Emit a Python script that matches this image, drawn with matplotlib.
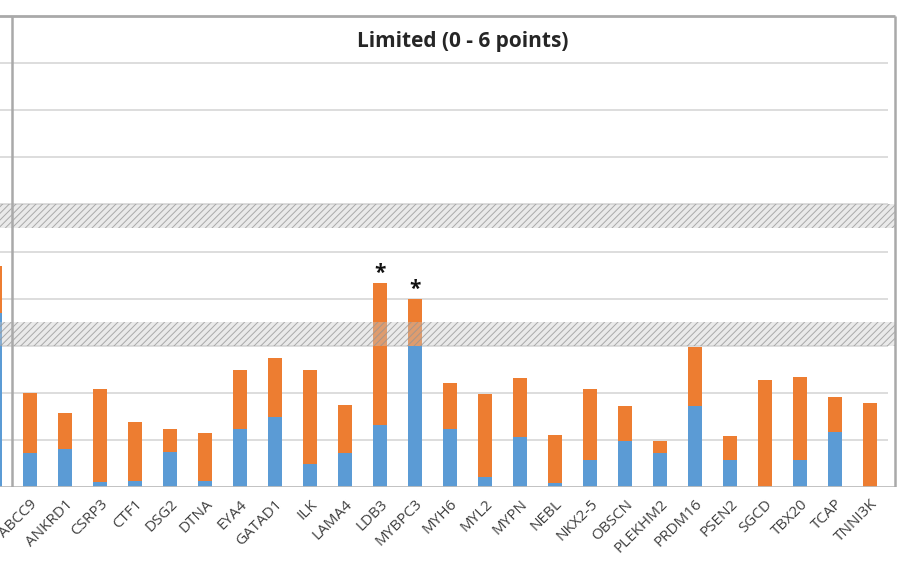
import numpy as np
import matplotlib.pyplot as plt

plt.rcParams['font.family'] = ['Open Sans', 'DejaVu Sans']
plt.rcParams['hatch.linewidth'] = 0.7

# last gene of the neighbouring panel (cut off) followed by the "Limited" genes
genes = ['', 'ABCC9', 'ANKRD1', 'CSRP3', 'CTF1', 'DSG2', 'DTNA', 'EYA4', 'GATAD1',
         'ILK', 'LAMA4', 'LDB3', 'MYBPC3', 'MYH6', 'MYL2', 'MYPN', 'NEBL',
         'NKX2-5', 'OBSCN', 'PLEKHM2', 'PRDM16', 'PSEN2', 'SGCD', 'TBX20',
         'TCAP', 'TNNI3K']
blue = [3.69, 0.72, 0.81, 0.10, 0.13, 0.74, 0.13, 1.23, 1.49,
        0.49, 0.72, 1.32, 2.99, 1.23, 0.21, 1.06, 0.08,
        0.57, 0.98, 0.72, 1.72, 0.57, 0.0, 0.57,
        1.17, 0.0]
total = [4.69, 2.00, 1.57, 2.08, 1.38, 1.23, 1.15, 2.48, 2.74,
         2.48, 1.74, 4.33, 3.99, 2.21, 1.97, 2.31, 1.10,
         2.08, 1.72, 0.98, 2.97, 1.08, 2.27, 2.33,
         1.91, 1.78]
starred = ['LDB3', 'MYBPC3']
bands = [(3.0, 3.5), (5.5, 6.0)]

blue = np.array(blue)
total = np.array(total)
orange = total - blue
x = np.arange(len(genes)) - 1

fig = plt.figure(figsize=(9.01, 5.62), dpi=100)
ax = fig.add_axes([0, 75 / 562, 1, 487 / 562])
for s in ax.spines.values():
    s.set_visible(False)
ax.set_yticks([])

# grid and frame
ax.hlines(np.arange(1, 10), -1, 24.5, color='#dadada', lw=1.3, zorder=1)
ax.hlines(10, -1, 24.71, color='#a9a9a9', lw=2, zorder=1)
ax.hlines(0, -1, 24.71, color='#bcbcbc', lw=2, zorder=4)
ax.vlines([-0.5, 24.71], 0, 10, color='#a9a9a9', lw=1.8, zorder=4)

ax.bar(x, blue, width=0.4, color='#5b9bd5', zorder=2)
ax.bar(x, orange, width=0.4, bottom=blue, color='#ed7d31', zorder=2)

for lo, hi in bands:
    ax.axhspan(lo, hi, xmin=0, xmax=(895 / 901), facecolor=(0.8, 0.8, 0.8, 0.4),
               edgecolor=(0.58, 0.58, 0.58, 0.75), hatch='/////', lw=0, zorder=3)

for g in starred:
    i = genes.index(g)
    ax.annotate('*', (x[i], total[i]), xytext=(0, 10), textcoords='offset pixels',
                ha='center', va='center', fontsize=15, fontweight='bold', color='#111111')

ax.set_xticks(x)
ax.set_xticklabels(genes, rotation=45, ha='right', rotation_mode='anchor',
                   fontsize=11, color='#404040')
ax.tick_params(axis='x', length=0, pad=7)

# limits last, so the ticks don't widen the view
ax.set_xlim(-30 / 35, 871 / 35)
ax.set_ylim(0, 487 / 47.1)

fig.text(463 / 901, 1 - 42 / 562, 'Limited (0 - 6 points)', ha='center',
         va='center', fontsize=15, fontweight='bold', color='#262626')

fig.savefig('out.png', dpi=100)
